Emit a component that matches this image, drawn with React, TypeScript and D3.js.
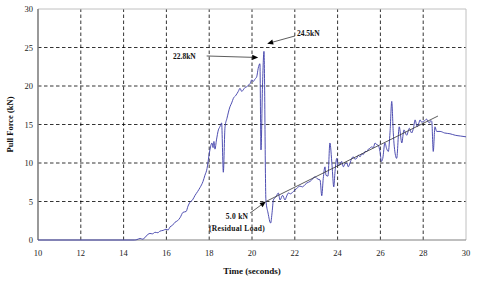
import React from "react";
import * as d3 from "d3";

const timeS = [
  10, 14.5, 14.62, 14.77, 14.9, 15.05, 15.23, 15.35, 15.47, 15.6, 15.7, 15.85, 15.98, 16.08, 16.17, 16.28,
  16.4, 16.52, 16.64, 16.78, 16.92, 17.01, 17.1, 17.22, 17.34, 17.46, 17.57, 17.71, 17.8, 17.9, 17.94, 17.99,
  18.04, 18.13, 18.18, 18.22, 18.27, 18.34, 18.43, 18.5, 18.58, 18.66, 18.74, 18.83, 18.97, 19.05, 19.13, 19.25,
  19.36, 19.44, 19.52, 19.59, 19.67, 19.75, 19.83, 19.91, 19.99, 20.06, 20.14, 20.22, 20.29, 20.37, 20.42, 20.49,
  20.56, 20.65, 20.75, 20.87, 20.94, 21.0, 21.12, 21.23, 21.31, 21.43, 21.54, 21.62, 21.7, 21.8, 21.93, 22.09,
  22.24, 22.36, 22.48, 22.56, 22.71, 22.79, 22.94, 23.08, 23.18, 23.26, 23.33, 23.41, 23.46, 23.55, 23.64, 23.74,
  23.82, 23.88, 23.96, 24.02, 24.11, 24.19, 24.27, 24.35, 24.43, 24.5, 24.58, 24.66, 24.73, 24.81, 24.89, 24.97,
  25.05, 25.13, 25.2, 25.28, 25.36, 25.44, 25.51, 25.59, 25.67, 25.75, 25.82, 25.9, 25.98, 26.05, 26.11, 26.21,
  26.3, 26.37, 26.45, 26.53, 26.6, 26.65, 26.76, 26.88, 27.0, 27.1, 27.23, 27.35, 27.46, 27.55, 27.62, 27.72,
  27.8, 27.85, 27.93, 28.0, 28.08, 28.16, 28.22, 28.29, 28.35, 28.4, 28.47, 28.55, 28.63, 28.79, 29.0, 29.25,
  29.5, 29.75, 30.0,
];

const forceKN = [
  0, 0, 0.05, 0.2, 0.1, 0.5, 0.85, 0.8, 1.0, 0.95, 1.15, 1.25, 1.4, 1.3, 1.7, 1.9,
  2.3, 2.5, 2.9, 3.6, 3.7, 4.4, 4.9, 5.2, 5.8, 6.3, 6.8, 7.6, 8.4, 9.3, 10.0, 11.0,
  11.8, 12.6, 12.0, 12.8, 11.8, 13.0, 14.3, 14.7, 15.2, 8.8, 14.7, 15.8, 17.3, 17.8, 18.4, 18.8,
  19.3, 19.7, 19.3, 19.5, 19.8, 19.9, 20.1, 20.3, 20.8, 20.6, 20.9, 21.2, 22.3, 22.9, 11.7, 20.0,
  24.5, 5.2, 3.5, 2.2, 3.6, 5.2, 5.6, 6.1, 5.2, 5.8, 5.2, 5.7, 6.1, 6.0, 6.3, 6.7,
  7.0, 6.9, 7.2, 7.4, 7.6, 7.8, 8.2, 7.9, 7.8, 5.75, 8.0, 9.5, 8.4, 8.3, 12.6, 9.7,
  6.9, 8.9, 10.6, 9.7, 9.8, 10.2, 9.5, 9.9, 10.0, 9.5, 10.0, 10.6, 10.8, 10.5, 10.6, 11.0,
  10.8, 11.2, 11.1, 11.5, 11.5, 11.8, 11.9, 12.1, 12.0, 12.6, 12.4, 12.3, 11.5, 10.2, 10.6, 12.6,
  11.8, 11.5, 14.0, 18.0, 14.0, 12.1, 10.6, 14.7, 12.6, 14.3, 13.6, 14.5, 13.9, 14.6, 15.6, 14.7,
  15.2, 15.6, 15.3, 15.4, 15.5, 15.7, 15.4, 15.2, 15.5, 15.4, 11.5, 14.7, 14.1, 14.1, 13.9, 13.8,
  13.6, 13.5, 13.4,
];

const trendTime = [20.65, 28.69];
const trendForce = [5.0, 16.1];

const xTicks = [10, 12, 14, 16, 18, 20, 22, 24, 26, 28, 30];
const yTicks = [0, 5, 10, 15, 20, 25, 30];

const xTitle = "Time (seconds)";
const yTitle = "Pull Force (kN)";

// annotation anchors in data coordinates
const peakLabel = { text: "22.8kN", tx: 16.31, ty: 23.9, x1: 17.88, y1: 23.9, x2: 20.29, y2: 23.7 };
const maxLabel = { text: "24.5kN", tx: 22.1, ty: 26.9, x1: 22.01, y1: 26.5, x2: 20.71, y2: 25.5 };
const resLabel = { text1: "5.0 kN", text2: "(Residual Load)", tx: 19.3, ty: 3.1, x1: 19.91, y1: 3.5, x2: 20.65, y2: 5.0 };

const W = 480;
const H = 286;
const M = { left: 38, right: 14, top: 9, bottom: 46 };

export default function App() {
  const x = d3.scaleLinear().domain([10, 30]).range([M.left, W - M.right]);
  const y = d3.scaleLinear().domain([0, 30]).range([H - M.bottom, M.top]);

  const pts = timeS.map((t, i) => [t, forceKN[i]] as [number, number]);
  const line = d3
    .line<[number, number]>()
    .x((d) => x(d[0]))
    .y((d) => y(d[1]))
    .curve(d3.curveMonotoneX);

  const font = "'Liberation Serif', 'Times New Roman', serif";
  const x0 = x(10), x1 = x(30), y0 = y(0), y1 = y(30);

  const arrow = (ax1: number, ay1: number, ax2: number, ay2: number, key: string) => {
    const px1 = x(ax1), py1 = y(ay1), px2 = x(ax2), py2 = y(ay2);
    const ang = Math.atan2(py2 - py1, px2 - px1);
    const L = 6, Wd = 2.6;
    const bx = px2 - L * Math.cos(ang), by = py2 - L * Math.sin(ang);
    const hx1 = bx + Wd * Math.sin(ang), hy1 = by - Wd * Math.cos(ang);
    const hx2 = bx - Wd * Math.sin(ang), hy2 = by + Wd * Math.cos(ang);
    return (
      <g key={key}>
        <line x1={px1} y1={py1} x2={bx} y2={by} stroke="#333" strokeWidth={0.8} />
        <polygon points={`${px2},${py2} ${hx1},${hy1} ${hx2},${hy2}`} fill="#000" />
      </g>
    );
  };

  return (
    <svg
      width={W}
      height={H}
      style={{ position: "absolute", left: 0, top: 0, background: "#fff" }}
      fontFamily={font}
    >
      <rect x={0} y={0} width={W} height={H} fill="#fff" />
      {/* grid */}
      {xTicks.filter((t) => t > 10 && t < 30).map((t) => (
        <line key={"gx" + t} x1={x(t)} x2={x(t)} y1={y0} y2={y1} stroke="#000" strokeWidth={0.8} strokeDasharray="3.5,2.5" />
      ))}
      {yTicks.filter((t) => t > 0 && t < 30).map((t) => (
        <line key={"gy" + t} x1={x0} x2={x1} y1={y(t)} y2={y(t)} stroke="#000" strokeWidth={0.8} strokeDasharray="3.5,2.5" />
      ))}
      {/* frame */}
      <line x1={x0} x2={x1} y1={y1} y2={y1} stroke="#c0c0c0" strokeWidth={1} />
      <line x1={x1} x2={x1} y1={y1} y2={y0} stroke="#c0c0c0" strokeWidth={1} />
      <line x1={x0} x2={x1} y1={y0} y2={y0} stroke="#808080" strokeWidth={1.2} />
      <line x1={x0} x2={x0} y1={y1} y2={y0} stroke="#808080" strokeWidth={1.6} />

      {/* data */}
      <path d={line(pts) || ""} fill="none" stroke="#3b3ba8" strokeWidth={0.9} />
      <line
        x1={x(trendTime[0])}
        y1={y(trendForce[0])}
        x2={x(trendTime[1])}
        y2={y(trendForce[1])}
        stroke="#333"
        strokeWidth={0.8}
      />

      {/* tick labels */}
      {xTicks.map((t) => (
        <text key={"tx" + t} x={x(t)} y={y0 + 16} fontSize={8.5} textAnchor="middle" fill="#222">
          {t}
        </text>
      ))}
      {yTicks.map((t) => (
        <text key={"ty" + t} x={x0 - 5} y={y(t) + 3} fontSize={8.5} textAnchor="end" fill="#222">
          {t}
        </text>
      ))}

      {/* axis titles */}
      <text x={(x0 + x1) / 2} y={274} fontSize={9} fontWeight="bold" textAnchor="middle" fill="#111">
        {xTitle}
      </text>
      <text
        transform={`translate(13,${(y0 + y1) / 2}) rotate(-90)`}
        fontSize={8.5}
        fontWeight="bold"
        textAnchor="middle"
        fill="#111"
      >
        {yTitle}
      </text>

      {/* annotations */}
      <text x={x(peakLabel.tx)} y={y(peakLabel.ty) + 3} fontSize={7.5} fontWeight="bold" fill="#111">
        {peakLabel.text}
      </text>
      {arrow(peakLabel.x1, peakLabel.y1, peakLabel.x2, peakLabel.y2, "a1")}
      <text x={x(maxLabel.tx)} y={y(maxLabel.ty) + 3} fontSize={7.5} fontWeight="bold" fill="#111">
        {maxLabel.text}
      </text>
      {arrow(maxLabel.x1, maxLabel.y1, maxLabel.x2, maxLabel.y2, "a2")}
      <text x={x(resLabel.tx)} y={y(resLabel.ty) + 3} fontSize={7.5} fontWeight="bold" textAnchor="middle" fill="#111" letterSpacing={0.3}>
        {resLabel.text1}
      </text>
      <text x={x(resLabel.tx)} y={y(resLabel.ty) + 15} fontSize={7.5} fontWeight="bold" textAnchor="middle" fill="#111" letterSpacing={0.3}>
        {resLabel.text2}
      </text>
      {arrow(resLabel.x1, resLabel.y1, resLabel.x2, resLabel.y2, "a3")}
    </svg>
  );
}
